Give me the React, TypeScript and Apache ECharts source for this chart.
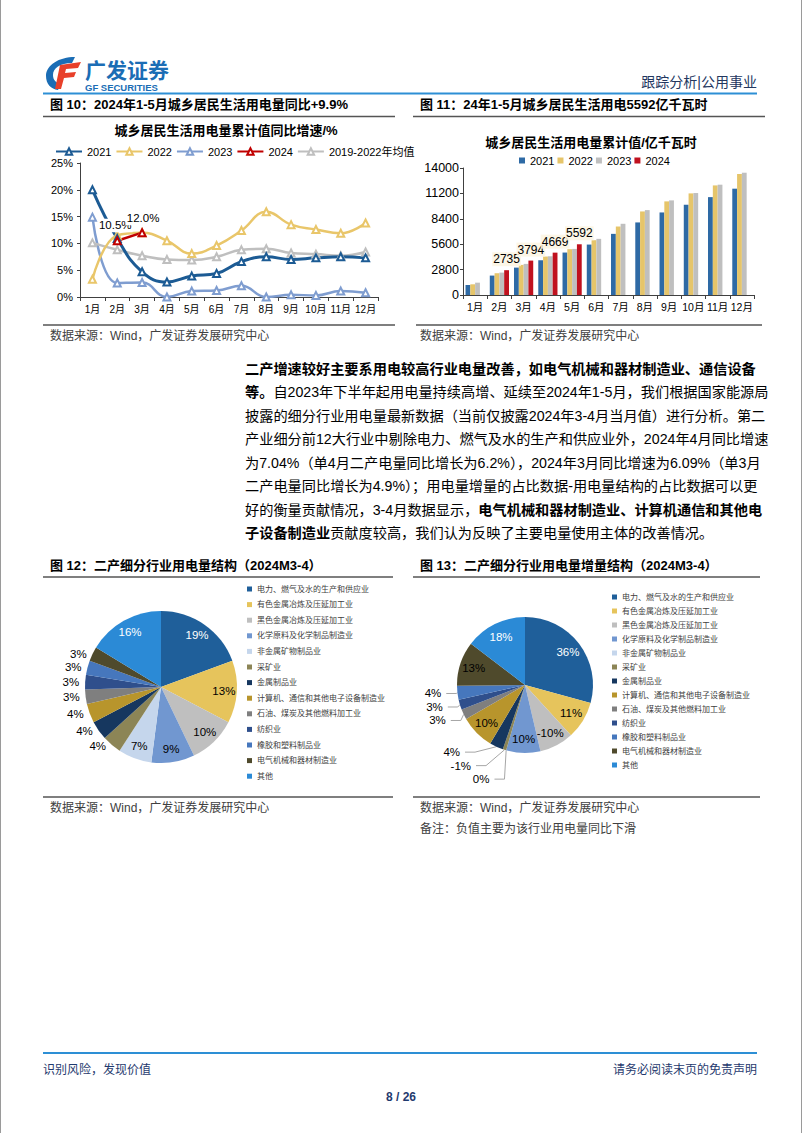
import React, { useEffect, useRef } from 'react';
import * as echarts from 'echarts';

// ---------- data ----------
const months = ['1月', '2月', '3月', '4月', '5月', '6月', '7月', '8月', '9月', '10月', '11月', '12月'];
const yoyNames = ['2021', '2022', '2023', '2024', '2019-2022年均值'];
const yoy2021 = [20.0, 10.9, 4.7, 2.8, 3.9, 4.4, 6.6, 7.5, 7.0, 7.3, 7.5, 7.3];
const yoy2022 = [3.3, 11.5, 12.0, 10.5, 8.1, 9.6, 12.4, 15.9, 13.5, 12.6, 11.9, 13.8];
const yoy2023 = [14.9, 2.6, 2.7, 0.0, 1.1, 1.2, 2.1, 0.0, 0.4, 0.3, 1.1, 0.8];
const yoy2024 = [null, 10.5, 12.0, null, null, null, null, null, null, null, null, null];
const yoyAvg = [10.1, 8.8, 7.7, 7.0, 6.9, 7.5, 8.8, 9.0, 8.2, 8.0, 7.7, 8.4];

const barNames = ['2021', '2022', '2023', '2024'];
const cum2021 = [1105, 2140, 3020, 3830, 4680, 5560, 6740, 8000, 9100, 9950, 10790, 11720];
const cum2022 = [1180, 2400, 3320, 4240, 5050, 6040, 7550, 9210, 10320, 11200, 12080, 13340];
const cum2023 = [1360, 2470, 3430, 4270, 5080, 6190, 7850, 9360, 10430, 11240, 12160, 13480];
const cum2024 = [null, 2735, 3794, 4669, 5592, null, null, null, null, null, null, null];

const industries = [
  '电力、燃气及水的生产和供应业',
  '有色金属冶炼及压延加工业',
  '黑色金属冶炼及压延加工业',
  '化学原料及化学制品制造业',
  '非金属矿物制品业',
  '采矿业',
  '金属制品业',
  '计算机、通信和其他电子设备制造业',
  '石油、煤炭及其他燃料加工业',
  '纺织业',
  '橡胶和塑料制品业',
  '电气机械和器材制造业',
  '其他',
];
const shareValues = [19, 13, 10, 9, 7, 4, 4, 4, 3, 3, 3, 3, 16];
const incrValues = [36, 11, -10, 10, 0, -1, 4, 10, 3, 3, 4, 13, 18];

// ---------- styles ----------
const FONT = "'Liberation Sans', 'Noto Sans CJK SC', sans-serif";
const lineColors = ['#1c5b94', '#e9c66a', '#7f9dd0', '#c00000', '#bfbfbf'];
const barColors = ['#2e6aa5', '#e6c56a', '#bfbfbf', '#c0111f'];
const pieColors = ['#1f5f9a', '#e6c45c', '#bfbfbf', '#7197d0', '#c5d6ec', '#8c8556', '#16375f', '#b8952c', '#7f7f7f', '#2f4f8c', '#4677bd', '#4f4a2c', '#2b8ad6'];

const paragraph: [string, boolean][][] = [
  [['二产增速较好主要系用电较高行业电量改善，如电气机械和器材制造业、通信设备', true]],
  [['等。', true], ['自2023年下半年起用电量持续高增、延续至2024年1-5月，我们根据国家能源局', false]],
  [['披露的细分行业用电量最新数据（当前仅披露2024年3-4月当月值）进行分析。第二', false]],
  [['产业细分前12大行业中剔除电力、燃气及水的生产和供应业外，2024年4月同比增速', false]],
  [['为7.04%（单4月二产电量同比增长为6.2%），2024年3月同比增速为6.09%（单3月', false]],
  [['二产电量同比增长为4.9%）；用电量增量的占比数据-用电量结构的占比数据可以更', false]],
  [['好的衡量贡献情况，3-4月数据显示，', false], ['电气机械和器材制造业、计算机通信和其他电', true]],
  [['子设备制造业', true], ['贡献度较高，我们认为反映了主要电量使用主体的改善情况。', false]],
];

echarts.graphic.registerShape(
  'gfBlue',
  echarts.graphic.extendPath('M30 1 C14 1 1 9 1 20 C1 28 6 33 13 34 L16 28 C11 27 8 24 8 19 C8 12 15 7 27 7 Z', {})
);
echarts.graphic.registerShape(
  'gfRed',
  echarts.graphic.extendPath('M15 9 L36 6 L33 12 L21 13 L20 17 L31 16 L29 21 L19 22 L16 33 L10 33 Z', {})
);

function txt(x: number, y: number, text: string, o: any = {}) {
  return {
    type: 'text',
    x,
    y,
    silent: true,
    style: {
      text,
      fontSize: o.size || 12,
      fontWeight: o.bold ? 'bold' : 'normal',
      fontFamily: FONT,
      fill: o.color || '#000',
      align: o.align || 'left',
      textAlign: o.align || 'left',
      verticalAlign: 'middle',
      textVerticalAlign: 'middle',
    },
  };
}
function hline(x1: number, x2: number, y: number, color: string, w: number) {
  return { type: 'line', silent: true, shape: { x1, y1: y, x2, y2: y }, style: { stroke: color, lineWidth: w } };
}

function buildOption() {
  const graphics: any[] = [];
  // page edges
  graphics.push({ type: 'line', silent: true, shape: { x1: 0.5, y1: 0, x2: 0.5, y2: 1133 }, style: { stroke: '#9a9a9a', lineWidth: 1 } });
  graphics.push({ type: 'line', silent: true, shape: { x1: 801.5, y1: 0, x2: 801.5, y2: 1133 }, style: { stroke: '#9a9a9a', lineWidth: 1 } });
  // header
  graphics.push({ type: 'gfBlue', x: 45, y: 56, scaleX: 1, scaleY: 1, silent: true, style: { fill: '#1b6db5' } });
  graphics.push({ type: 'gfRed', x: 45, y: 56, scaleX: 1, scaleY: 1, silent: true, style: { fill: '#e8402a' } });
  graphics.push(txt(85, 70, '广发证券', { size: 21, bold: true, color: '#1b6db5' }));
  graphics.push(txt(85, 87.5, 'GF SECURITIES', { size: 9.5, bold: true, color: '#1b6db5' }));
  graphics.push(txt(757, 82, '跟踪分析|公用事业', { size: 14, color: '#23375f', align: 'right' }));
  graphics.push(hline(43, 757, 93.5, '#2d8fd5', 2));
  // figure titles
  graphics.push(txt(50, 104, '图 10：2024年1-5月城乡居民生活用电量同比+9.9%', { size: 13, bold: true }));
  graphics.push(txt(420, 104, '图 11：24年1-5月城乡居民生活用电5592亿千瓦时', { size: 13, bold: true }));
  graphics.push(hline(43, 395, 116.5, '#555', 1.5));
  graphics.push(hline(413, 765, 116.5, '#555', 1.5));
  graphics.push(txt(226, 130, '城乡居民生活用电量累计值同比增速/%', { size: 13, bold: true, align: 'center' }));
  graphics.push(txt(591, 142, '城乡居民生活用电量累计值/亿千瓦时', { size: 13, bold: true, align: 'center' }));
  graphics.push(hline(43, 395, 325, '#7f7f7f', 2));
  graphics.push(hline(416, 762, 325, '#7f7f7f', 2));
  graphics.push(txt(50, 336, '数据来源：Wind，广发证券发展研究中心', { size: 12, color: '#404040' }));
  graphics.push(txt(420, 336, '数据来源：Wind，广发证券发展研究中心', { size: 12, color: '#404040' }));
  // paragraph
  const PS = 14.2;
  const rich = {
    b: { fontSize: PS, fontWeight: 'bold', fontFamily: FONT, fill: '#000', color: '#000' },
    n: { fontSize: PS, fontWeight: 'normal', fontFamily: FONT, fill: '#000', color: '#000' },
  };
  paragraph.forEach((segs, i) => {
    graphics.push({
      type: 'text',
      x: 245,
      y: 369 + i * 23.45,
      silent: true,
      style: {
        text: segs.map(([t, b]) => `{${b ? 'b' : 'n'}|${t}}`).join(''),
        rich,
        fontSize: PS,
        fontFamily: FONT,
        fill: '#000',
        align: 'left',
        textAlign: 'left',
        verticalAlign: 'middle',
        textVerticalAlign: 'middle',
      },
    });
  });
  // figure 12/13
  graphics.push(txt(50, 565, '图 12：二产细分行业用电量结构（2024M3-4）', { size: 13, bold: true }));
  graphics.push(txt(420, 565, '图 13：二产细分行业用电量增量结构（2024M3-4）', { size: 13, bold: true }));
  graphics.push(hline(43, 393, 577, '#555', 1.5));
  graphics.push(hline(413, 760, 577, '#555', 1.5));
  graphics.push(hline(43, 393, 797, '#7f7f7f', 2));
  graphics.push(hline(413, 760, 797, '#7f7f7f', 2));
  graphics.push(txt(50, 808, '数据来源：Wind，广发证券发展研究中心', { size: 12, color: '#404040' }));
  graphics.push(txt(420, 808, '数据来源：Wind，广发证券发展研究中心', { size: 12, color: '#404040' }));
  graphics.push(txt(420, 829, '备注：负值主要为该行业用电量同比下滑', { size: 12, color: '#404040' }));
  // footer
  graphics.push(hline(43, 757, 1053, '#2d8fd5', 2));
  graphics.push(txt(43, 1070, '识别风险，发现价值', { size: 12, color: '#1f3a6e' }));
  graphics.push(txt(757, 1070, '请务必阅读末页的免责声明', { size: 12, color: '#1f3a6e', align: 'right' }));
  graphics.push(txt(401, 1097, '8 / 26', { size: 12, bold: true, color: '#1f3a6e', align: 'center' }));

  const yoySets = [yoy2021, yoy2022, yoy2023, yoy2024, yoyAvg];
  const drawOrder = [2, 4, 1, 0, 3];
  const lineSeries = drawOrder.map((i) => ({
    type: 'line',
    name: yoyNames[i],
    xAxisIndex: 0,
    yAxisIndex: 0,
    smooth: 0.45,
    symbol: 'emptyTriangle',
    symbolSize: 7,
    lineStyle: { width: i === 0 ? 3 : 2.5, color: lineColors[i] },
    itemStyle: { color: lineColors[i], borderWidth: 1.3 },
    data:
      i === 3
        ? yoySets[i].map((v, k) =>
            v == null
              ? null
              : {
                  value: v,
                  label: {
                    show: true,
                    position: 'top',
                    distance: k === 1 ? 4 : 3,
                    offset: k === 1 ? [-2, 0] : [1, 0],
                    formatter: (p: any) => Number(p.value).toFixed(1) + '%',
                    fontSize: 11.5,
                    fontFamily: FONT,
                    color: '#000',
                    backgroundColor: '#fff',
                    padding: [1, 1],
                  },
                }
          )
        : yoySets[i],
  }));

  const cumSets = [cum2021, cum2022, cum2023, cum2024];
  const barSeries = cumSets.map((d, i) => ({
    type: 'bar',
    name: 'b' + barNames[i],
    xAxisIndex: 1,
    yAxisIndex: 1,
    barWidth: 4.8,
    barGap: '0%',
    itemStyle: { color: barColors[i] },
    data: d,
    label:
      i === 3
        ? {
            show: true,
            position: 'top',
            distance: 4,
            fontSize: 12,
            fontFamily: FONT,
            color: '#000',
            backgroundColor: 'rgba(252,245,226,0.85)',
            padding: [1, 1],
          }
        : { show: false },
  }));

  const pctFmt = (p: any) => p.data.raw + '%';
  const pie12Main = {
    type: 'pie',
    center: [161, 687],
    radius: [0, 76],
    startAngle: 90,
    clockwise: true,
    avoidLabelOverlap: true,
    data: industries.map((n, i) => ({
      name: n,
      value: shareValues[i],
      raw: shareValues[i],
      itemStyle: { color: pieColors[i] },
      label: { show: shareValues[i] < 5 },
    })),
    label: { position: 'outside', fontSize: 11.5, fontFamily: FONT, color: '#000', formatter: pctFmt },
    labelLine: { show: false, length: 1, length2: 0 },
    emphasis: { disabled: true },
  };
  const pie12Labels = {
    type: 'pie',
    center: [161, 687],
    radius: [44, 76],
    startAngle: 90,
    clockwise: true,
    silent: true,
    z: 5,
    itemStyle: { color: 'rgba(0,0,0,0)' },
    data: industries.map((n, i) => ({
      name: n,
      value: shareValues[i],
      raw: shareValues[i],
      label: { show: shareValues[i] >= 5, color: i === 0 || i === 12 ? '#fff' : '#000' },
    })),
    label: { position: 'inside', fontSize: 11.5, fontFamily: FONT, formatter: pctFmt },
    labelLine: { show: false },
    emphasis: { disabled: true },
  };
  const pie13Main = {
    type: 'pie',
    center: [525, 685],
    radius: [0, 68],
    startAngle: 90,
    clockwise: true,
    avoidLabelOverlap: true,
    data: industries.map((n, i) => ({
      name: n,
      value: Math.abs(incrValues[i]),
      raw: incrValues[i],
      itemStyle: { color: pieColors[i] },
      label: { show: Math.abs(incrValues[i]) < 10 },
    })),
    label: { position: 'outside', fontSize: 11.5, fontFamily: FONT, color: '#000', formatter: pctFmt },
    labelLine: { show: true, length: 6, length2: 10, lineStyle: { color: '#a6a6a6', width: 1 } },
    emphasis: { disabled: true },
  };
  const pie13Labels = {
    type: 'pie',
    center: [525, 685],
    radius: [34, 68],
    startAngle: 90,
    clockwise: true,
    silent: true,
    z: 5,
    itemStyle: { color: 'rgba(0,0,0,0)' },
    data: industries.map((n, i) => ({
      name: n,
      value: Math.abs(incrValues[i]),
      raw: incrValues[i],
      label: { show: Math.abs(incrValues[i]) >= 10, color: i === 0 || i === 12 ? '#fff' : '#000' },
    })),
    label: { position: 'inside', fontSize: 11.5, fontFamily: FONT, formatter: pctFmt },
    labelLine: { show: false },
    emphasis: { disabled: true },
  };

  const axisCommon = {
    axisLine: { show: true, lineStyle: { color: '#404040', width: 1 } },
    axisTick: { show: true, length: 4, lineStyle: { color: '#404040' } },
    splitLine: { show: false },
  };

  return {
    animation: false,
    textStyle: { fontFamily: FONT },
    grid: [
      { left: 80, top: 163, width: 298, height: 134 },
      { left: 463, top: 168, width: 291, height: 127 },
    ],
    xAxis: [
      {
        type: 'category',
        gridIndex: 0,
        data: months,
        boundaryGap: true,
        ...axisCommon,
        axisLabel: { fontSize: 10, color: '#000', margin: 7, interval: 0, fontFamily: FONT },
      },
      {
        type: 'category',
        gridIndex: 1,
        data: months,
        boundaryGap: true,
        ...axisCommon,
        axisLabel: { fontSize: 10.5, color: '#000', margin: 7, interval: 0, fontFamily: FONT },
      },
    ],
    yAxis: [
      {
        type: 'value',
        gridIndex: 0,
        min: 0,
        max: 25,
        interval: 5,
        ...axisCommon,
        axisTick: { show: true, length: 3, lineStyle: { color: '#404040' } },
        axisLabel: { formatter: '{value}%', fontSize: 11, color: '#000', margin: 7, fontFamily: FONT },
      },
      {
        type: 'value',
        gridIndex: 1,
        min: 0,
        max: 14000,
        interval: 2800,
        ...axisCommon,
        axisTick: { show: true, length: 3, lineStyle: { color: '#404040' } },
        axisLabel: { formatter: (v: number) => String(v), fontSize: 12.5, color: '#000', margin: 4, fontFamily: FONT },
      },
    ],
    legend: [
      {
        left: 50,
        top: 141,
        itemWidth: 26,
        itemHeight: 8,
        itemGap: 4,
        selectedMode: false,
        data: yoyNames,
        textStyle: { fontSize: 11, color: '#000', fontFamily: FONT },
      },
      {
        left: 514,
        top: 150,
        itemWidth: 6,
        itemHeight: 6,
        itemGap: 3,
        icon: 'rect',
        selectedMode: false,
        data: barNames.map((n) => 'b' + n),
        formatter: (n: string) => n.slice(1),
        textStyle: { fontSize: 11, color: '#000', fontFamily: FONT },
      },
      {
        orient: 'vertical',
        left: 242,
        top: 579,
        itemWidth: 5,
        itemHeight: 5,
        itemGap: 5.6,
        icon: 'rect',
        selectedMode: false,
        data: industries,
        textStyle: { fontSize: 8, lineHeight: 10, color: '#404040', fontFamily: FONT },
      },
      {
        orient: 'vertical',
        left: 607,
        top: 587,
        itemWidth: 5,
        itemHeight: 5,
        itemGap: 4,
        icon: 'rect',
        selectedMode: false,
        data: industries,
        textStyle: { fontSize: 8, lineHeight: 10, color: '#404040', fontFamily: FONT },
      },
    ],
    series: [...lineSeries, ...barSeries, pie12Main, pie12Labels, pie13Main, pie13Labels],
    graphic: { elements: graphics },
  };
}

export default function App() {
  const ref = useRef<HTMLDivElement>(null);
  useEffect(() => {
    document.body.style.margin = '0';
    const chart = echarts.init(ref.current as HTMLDivElement, null, { renderer: 'svg' });
    chart.setOption(buildOption() as any);
    return () => chart.dispose();
  }, []);
  return (
    <div
      ref={ref}
      style={{ position: 'absolute', left: 0, top: 0, width: 802, height: 1133, background: '#fff' }}
    />
  );
}
